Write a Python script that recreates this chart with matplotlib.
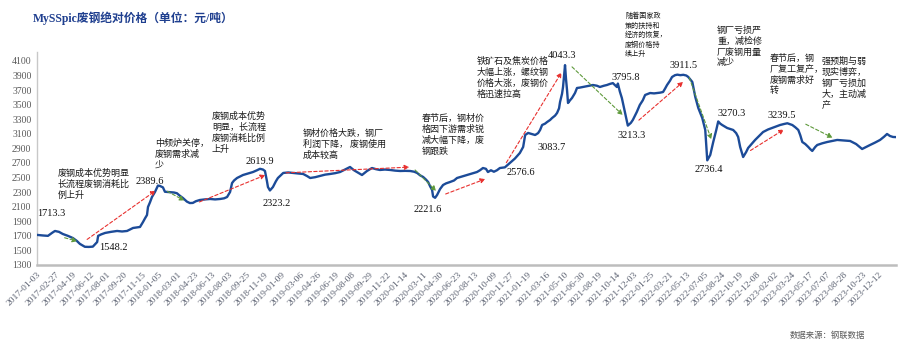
import matplotlib
matplotlib.use("Agg")
import matplotlib.pyplot as plt
import pandas as pd

plt.rcParams['font.family'] = ['Liberation Serif', 'Noto Sans CJK SC', 'DejaVu Sans']

W, H = 900, 343

# --- data (yuan/ton) ---
dates = [
    "2017-01-03", "2017-01-21", "2017-02-05", "2017-02-17", "2017-02-26", "2017-03-10",
    "2017-03-22", "2017-04-06", "2017-04-21", "2017-05-03", "2017-05-12", "2017-05-27",
    "2017-06-08", "2017-06-20", "2017-07-03", "2017-07-06", "2017-07-15", "2017-07-27",
    "2017-08-14", "2017-09-01", "2017-09-16", "2017-10-01", "2017-10-19", "2017-11-09",
    "2017-11-18", "2017-11-24", "2017-11-30", "2017-12-03", "2017-12-09", "2017-12-15",
    "2017-12-24", "2018-01-02", "2018-01-08", "2018-01-17", "2018-01-23", "2018-02-07",
    "2018-02-19", "2018-02-28", "2018-03-09", "2018-03-18", "2018-03-30", "2018-04-08",
    "2018-04-17", "2018-04-26", "2018-05-08", "2018-05-23", "2018-06-08", "2018-06-23",
    "2018-07-08", "2018-07-20", "2018-07-29", "2018-08-07", "2018-08-13", "2018-08-19",
    "2018-08-28", "2018-09-06", "2018-09-15", "2018-09-30", "2018-10-15", "2018-10-27",
    "2018-11-05", "2018-11-14", "2018-11-20", "2018-11-26", "2018-11-29", "2018-12-05",
    "2018-12-14", "2018-12-23", "2018-12-29", "2019-01-14", "2019-01-29", "2019-02-13",
    "2019-02-28", "2019-03-15", "2019-03-27", "2019-04-05", "2019-04-20", "2019-05-05",
    "2019-05-20", "2019-06-04", "2019-06-19", "2019-07-04", "2019-07-19", "2019-08-03",
    "2019-08-15", "2019-08-24", "2019-09-08", "2019-09-23", "2019-10-08", "2019-10-20",
    "2019-11-01", "2019-11-16", "2019-12-02", "2019-12-17", "2020-01-01", "2020-01-16",
    "2020-01-31", "2020-02-12", "2020-02-21", "2020-03-01", "2020-03-10", "2020-03-19",
    "2020-03-25", "2020-03-31", "2020-04-06", "2020-04-09", "2020-04-15", "2020-04-21",
    "2020-04-30", "2020-05-09", "2020-05-18", "2020-05-30", "2020-06-11", "2020-06-20",
    "2020-07-05", "2020-07-20", "2020-08-04", "2020-08-19", "2020-08-28", "2020-09-06",
    "2020-09-15", "2020-09-21", "2020-09-30", "2020-10-09", "2020-10-18", "2020-10-27",
    "2020-11-11", "2020-11-26", "2020-12-11", "2020-12-26", "2021-01-05", "2021-01-11",
    "2021-01-20", "2021-01-29", "2021-02-10", "2021-02-19", "2021-02-25", "2021-03-03",
    "2021-03-12", "2021-03-18", "2021-03-27", "2021-04-02", "2021-04-11", "2021-04-17",
    "2021-04-23", "2021-04-26", "2021-05-02", "2021-05-05", "2021-05-11", "2021-05-14",
    "2021-05-17", "2021-05-20", "2021-05-26", "2021-06-01", "2021-06-10", "2021-06-16",
    "2021-06-25", "2021-07-04", "2021-07-19", "2021-08-03", "2021-08-15", "2021-08-24",
    "2021-09-05", "2021-09-14", "2021-09-23", "2021-10-02", "2021-10-08", "2021-10-14",
    "2021-10-17", "2021-10-23", "2021-10-29", "2021-11-07", "2021-11-16", "2021-11-25",
    "2021-12-01", "2021-12-13", "2021-12-22", "2021-12-31", "2022-01-07", "2022-01-22",
    "2022-02-03", "2022-02-12", "2022-02-21", "2022-03-02", "2022-03-08", "2022-03-14",
    "2022-03-23", "2022-03-29", "2022-04-07", "2022-04-14", "2022-04-23", "2022-05-02",
    "2022-05-11", "2022-05-17", "2022-05-29", "2022-06-07", "2022-06-16", "2022-06-28",
    "2022-07-07", "2022-07-13", "2022-07-22", "2022-07-31", "2022-08-09", "2022-08-15",
    "2022-08-21", "2022-08-27", "2022-09-11", "2022-09-29", "2022-10-08", "2022-10-14",
    "2022-10-20", "2022-10-29", "2022-11-07", "2022-11-13", "2022-11-25", "2022-12-04",
    "2022-12-16", "2022-12-28", "2023-01-12", "2023-01-24", "2023-02-05", "2023-02-17",
    "2023-03-01", "2023-03-11", "2023-03-20", "2023-03-26", "2023-04-04", "2023-04-13",
    "2023-04-19", "2023-04-25", "2023-05-04", "2023-05-13", "2023-05-19", "2023-05-25",
    "2023-06-03", "2023-06-09", "2023-06-24", "2023-07-09", "2023-07-24", "2023-08-08",
    "2023-08-26", "2023-09-16", "2023-10-04", "2023-10-22", "2023-11-03", "2023-11-15",
    "2023-11-30", "2023-12-15", "2023-12-27", "2024-01-05", "2024-01-14", "2024-01-23",
    "2024-02-01",
]
prices = [
    1713, 1705, 1700, 1740, 1767, 1755,
    1725, 1700, 1670, 1630, 1590, 1550,
    1548, 1552, 1615, 1700, 1720, 1740,
    1755, 1767, 1760, 1767, 1808, 1822,
    1890, 1940, 1986, 2096, 2160, 2233,
    2302, 2390, 2385, 2365, 2305, 2300,
    2295, 2285, 2250, 2220, 2170, 2150,
    2152, 2175, 2192, 2200, 2206, 2200,
    2206, 2215, 2233, 2302, 2425, 2460,
    2494, 2515, 2535, 2555, 2576, 2600,
    2620, 2610, 2590, 2450, 2370, 2323,
    2370, 2450, 2494, 2563, 2570, 2563,
    2555, 2549, 2520, 2494, 2505, 2522,
    2540, 2549, 2560, 2576, 2610, 2645,
    2600, 2576, 2535, 2590, 2631, 2615,
    2604, 2610, 2604, 2595, 2590, 2592,
    2590, 2580, 2563, 2530, 2508, 2470,
    2439, 2380, 2329, 2240, 2222, 2261,
    2343, 2398, 2420, 2439, 2460, 2494,
    2515, 2535, 2555, 2576, 2600, 2631,
    2620, 2576, 2600, 2580, 2600, 2631,
    2640, 2700, 2760, 2837, 2920, 3084,
    3112, 3100, 3084, 3110, 3153, 3221,
    3240, 3262, 3290, 3317, 3350, 3386,
    3450, 3537, 3650, 3743, 4043, 3850,
    3702, 3523, 3560, 3592, 3660, 3729,
    3735, 3743, 3755, 3770, 3760, 3743,
    3760, 3770, 3785, 3796, 3770, 3743,
    3790, 3680, 3592, 3400, 3213, 3250,
    3290, 3400, 3496, 3560, 3633, 3660,
    3655, 3660, 3665, 3674, 3720, 3770,
    3830, 3880, 3905, 3912, 3905, 3910,
    3900, 3880, 3812, 3606, 3455, 3317,
    3153, 2736, 2810, 2988, 3150, 3270,
    3240, 3221, 3180, 3153, 3110, 3057,
    2920, 2782, 2850, 2906, 2970, 3016,
    3070, 3125, 3160, 3180, 3200, 3221,
    3235, 3245, 3230, 3221, 3190, 3153,
    3080, 2988, 2960, 2920, 2890, 2865,
    2920, 2947, 2970, 2988, 3002, 3016,
    3010, 3002, 2960, 2892, 2920, 2947,
    2980, 3016, 3060, 3098, 3070, 3057,
    3055,
]

tick_labels = [
    "2017-01-03", "2017-02-27", "2017-04-19", "2017-06-12", "2017-08-01", "2017-09-20",
    "2017-11-15", "2018-01-05", "2018-03-01", "2018-04-23", "2018-06-13", "2018-08-03",
    "2018-09-25", "2018-11-19", "2019-01-09", "2019-03-06", "2019-04-26", "2019-06-19",
    "2019-08-08", "2019-09-29", "2019-11-22", "2020-01-14", "2020-03-11", "2020-04-30",
    "2020-06-23", "2020-08-13", "2020-10-09", "2020-11-27", "2021-01-19", "2021-03-16",
    "2021-05-10", "2021-06-30", "2021-08-19", "2021-10-14", "2021-12-03", "2022-01-25",
    "2022-03-21", "2022-05-13", "2022-07-05", "2022-08-24", "2022-10-19", "2022-12-08",
    "2023-02-02", "2023-03-24", "2023-05-17", "2023-07-07", "2023-08-28", "2023-10-23",
    "2023-12-12",
]

value_labels = ["1713.3", "1548.2", "2389.6", "2619.9", "2323.2", "2221.6", "2576.6",
                "3083.7", "4043.3", "3795.8", "3213.3", "3911.5", "2736.4", "3270.3",
                "3239.5"]
value_label_px = [(37, 214), (99, 248), (136, 181), (246, 162), (263, 204), (414, 209),
                  (507, 172), (538, 147), (548, 56), (612, 77), (617, 135), (669, 65),
                  (695, 169), (717, 113), (767, 115)]

notes = [
    "废钢成本优势明显\n长流程废钢消耗比\n例上升",
    "中频炉关停，\n废钢需求减\n少",
    "废钢成本优势\n明显，长流程\n废钢消耗比例\n上升",
    "钢材价格大跌，钢厂\n利润下降， 废钢使用\n成本较高",
    "春节后，钢材价\n格因下游需求锐\n减大幅下降，废\n钢跟跌",
    "铁矿石及焦炭价格\n大幅上涨，螺纹钢\n价格大涨，废钢价\n格迅速拉高",
    "随着国家政\n策的扶持和\n经济的恢复，\n废钢价格持\n续上升",
    "钢厂亏损严\n重，减检修\n厂废钢用量\n减少",
    "春节后，钢\n厂复工复产，\n废钢需求好\n转",
    "强预期与弱\n现实博弈，\n钢厂亏损加\n大，主动减\n产",
]
note_px = [(58, 169), (155, 139), (212, 112), (303, 129), (422, 114), (477, 57),
           (625, 12), (717, 26), (770, 54), (822, 57)]
note_size = [6.5, 6.5, 6.5, 6.5, 6.5, 6.5, 5.1, 6.5, 6.5, 6.5]

# trend arrows (start date, start value, end date, end value)
up_arrows = [
    ("2017-05-27", 1629, "2018-01-02", 2343),
    ("2018-04-29", 2151, "2018-11-29", 2549),
    ("2019-01-14", 2563, "2020-02-06", 2645),
    ("2020-05-09", 2261, "2020-09-21", 2494),
    ("2020-11-11", 2672, "2021-05-05", 3976),
    ("2021-12-13", 3263, "2022-05-08", 3839),
    ("2022-11-13", 2851, "2023-03-08", 3180),
]
down_arrows = [
    ("2017-03-19", 1684, "2017-05-12", 1616),
    ("2018-01-23", 2329, "2018-03-30", 2165),
    ("2020-02-09", 2631, "2020-04-24", 2288),
    ("2021-05-26", 4045, "2021-11-07", 3331),
    ("2022-05-17", 3908, "2022-07-28", 2988),
    ("2023-04-28", 3249, "2023-08-02", 3029),
]


def fig_xy(px, py):
    return px / W, 1 - py / H


fig = plt.figure(figsize=(W / 100, H / 100), dpi=100)
ax = fig.add_axes([37 / W, (H - 265) / H, (896 - 37) / W, 213 / H])

x = pd.to_datetime(dates)
ax.plot(x, prices, color="#1c4b98", lw=1.7, solid_joinstyle="round", zorder=3)

ax.set_xlim(pd.Timestamp("2017-01-03"), pd.Timestamp("2024-02-01"))
ax.set_ylim(1300, 4223)
ax.set_yticks(range(1300, 4101, 200))
ax.tick_params(axis="y", length=0, pad=4, labelsize=7, labelcolor="#595959")
ax.set_xticks(pd.to_datetime(tick_labels))
ax.set_xticklabels(tick_labels, rotation=45, ha="right", va="top",
                   rotation_mode="anchor")
ax.tick_params(axis="x", length=0, pad=4, labelsize=6.8, labelcolor="#5a6070")

for s in ["top", "right"]:
    ax.spines[s].set_visible(False)
ax.spines["left"].set_color("#c8c8c8")
ax.spines["left"].set_linewidth(1.0)
ax.spines["bottom"].set_color("#bdbdbd")
ax.spines["bottom"].set_linewidth(1.8)

for x0, y0, x1, y1 in up_arrows:
    ax.annotate("", xy=(pd.Timestamp(x1), y1), xytext=(pd.Timestamp(x0), y0),
                arrowprops=dict(arrowstyle="-|>", color="#e8312f", lw=0.8,
                                ls=(0, (3, 2)), mutation_scale=7), zorder=4)
for x0, y0, x1, y1 in down_arrows:
    ax.annotate("", xy=(pd.Timestamp(x1), y1), xytext=(pd.Timestamp(x0), y0),
                arrowprops=dict(arrowstyle="-|>", color="#5f9a3c", lw=0.8,
                                ls=(0, (3, 2)), mutation_scale=7), zorder=4)

for txt, (px, py) in zip(value_labels, value_label_px):
    fx, fy = fig_xy(px, py)
    fig.text(fx, fy, txt, fontsize=7.5, color="#111111", ha="left", va="center")

for txt, (px, py), fs in zip(notes, note_px, note_size):
    fx, fy = fig_xy(px, py)
    fig.text(fx, fy, txt, fontsize=fs, color="#1a1a1a", ha="left", va="top",
             linespacing=1.25, family=["Noto Sans CJK SC", "DejaVu Sans"])

fx, fy = fig_xy(33, 18)
fig.text(fx, fy, "MySSpic废钢绝对价格（单位：元/吨）", fontsize=8.5, fontweight="bold",
         color="#1f3f8f", ha="left", va="center")

fx, fy = fig_xy(790, 335)
fig.text(fx, fy, "数据来源：钢联数据", fontsize=6, color="#595959", ha="left", va="center",
         family=["Noto Sans CJK SC", "DejaVu Sans"])

fig.savefig("out.png", dpi=100)
